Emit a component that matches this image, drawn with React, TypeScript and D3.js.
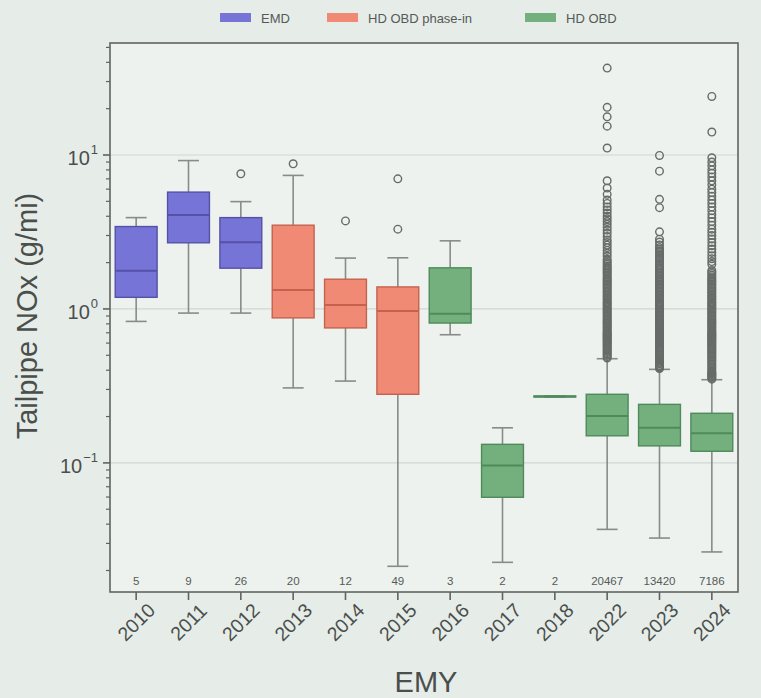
import { useEffect, useRef } from "react";
import * as d3 from "d3";

const years = ["2010", "2011", "2012", "2013", "2014", "2015", "2016", "2017", "2018", "2022", "2023", "2024"];
const groups = ["EMD", "EMD", "EMD", "HD OBD phase-in", "HD OBD phase-in", "HD OBD phase-in", "HD OBD", "HD OBD", "HD OBD", "HD OBD", "HD OBD", "HD OBD"];
const counts = ["5", "9", "26", "20", "12", "49", "3", "2", "2", "20467", "13420", "7186"];

const whiskLo = [0.83, 0.94, 0.94, 0.307, 0.34, 0.0213, 0.68, 0.0226, 0.268, 0.037, 0.0325, 0.0264];
const q1 = [1.19, 2.69, 1.84, 0.875, 0.753, 0.279, 0.81, 0.0598, 0.268, 0.15, 0.129, 0.119];
const med = [1.77, 4.08, 2.71, 1.33, 1.06, 0.97, 0.93, 0.096, 0.27, 0.202, 0.169, 0.156];
const q3 = [3.43, 5.74, 3.92, 3.5, 1.56, 1.39, 1.85, 0.132, 0.272, 0.279, 0.24, 0.21];
const whiskHi = [3.92, 9.2, 4.98, 7.37, 2.14, 2.15, 2.77, 0.169, 0.272, 0.475, 0.405, 0.347];

const out2012 = [7.55];
const out2013 = [8.77];
const out2014 = [3.73];
const out2015 = [7.0, 3.3];
const out2022 = [36.7, 20.4, 17.7, 15.4, 11.1, 6.8, 6.1, 5.55, 5.1, 4.85, 4.6, 4.4, 4.2, 4.0, 3.85, 3.7, 3.55, 3.4, 3.25, 3.1, 2.95, 2.8, 2.7, 2.6, 2.5, 2.4, 2.3, 2.2,
  2.1, 2.05, 2.0, 1.95, 1.9, 1.86, 1.82, 1.78, 1.74, 1.7, 1.66, 1.62, 1.58, 1.55, 1.52, 1.49, 1.46, 1.43, 1.4, 1.37, 1.34, 1.31, 1.28, 1.25, 1.22, 1.2, 1.17, 1.15,
  1.12, 1.1, 1.08, 1.06, 1.04, 1.02, 1.0, 0.98, 0.96, 0.94, 0.92, 0.9, 0.88, 0.86, 0.845, 0.83, 0.815, 0.8, 0.785, 0.77, 0.755, 0.74, 0.725, 0.71, 0.7, 0.69, 0.68,
  0.67, 0.66, 0.65, 0.64, 0.63, 0.62, 0.61, 0.6, 0.59, 0.58, 0.57, 0.56, 0.55, 0.54, 0.53, 0.52, 0.51, 0.5, 0.49, 0.48];
const out2023 = [9.93, 7.85, 5.15, 4.55, 3.17, 2.84, 2.72, 2.6, 2.5, 2.44, 2.38, 2.32, 2.26, 2.2, 2.15, 2.1, 2.05, 2.0, 1.95, 1.9, 1.86, 1.82, 1.78, 1.74, 1.7,
  1.66, 1.62, 1.58, 1.55, 1.52, 1.49, 1.46, 1.43, 1.4, 1.37, 1.34, 1.31, 1.28, 1.25, 1.22, 1.2, 1.17, 1.15, 1.12, 1.1, 1.08, 1.06, 1.04, 1.02, 1.0, 0.98, 0.96,
  0.94, 0.92, 0.9, 0.88, 0.86, 0.845, 0.83, 0.815, 0.8, 0.785, 0.77, 0.755, 0.74, 0.725, 0.71, 0.7, 0.69, 0.68, 0.67, 0.66, 0.65, 0.64, 0.63, 0.62, 0.61, 0.6,
  0.59, 0.58, 0.57, 0.56, 0.55, 0.54, 0.53, 0.52, 0.51, 0.5, 0.49, 0.48, 0.475, 0.47, 0.46, 0.45, 0.445, 0.44, 0.43, 0.425, 0.42, 0.415, 0.41];
const out2024 = [24, 14.1, 9.6, 9.0, 8.5, 8.0, 7.6, 7.2, 6.8, 6.4, 6.0, 5.7, 5.4, 5.1, 4.85, 4.6, 4.35, 4.1, 3.9, 3.7, 3.5, 3.3, 3.15, 3.0, 2.85, 2.7, 2.57,
  2.45, 2.33, 2.22, 2.12, 2.03, 1.95, 1.78, 1.74, 1.7, 1.66, 1.62, 1.58, 1.55, 1.52, 1.49, 1.46, 1.43, 1.4, 1.37, 1.34, 1.31, 1.28, 1.25, 1.22, 1.2, 1.17, 1.15,
  1.12, 1.1, 1.08, 1.06, 1.04, 1.02, 1.0, 0.98, 0.96, 0.94, 0.92, 0.9, 0.88, 0.86, 0.845, 0.83, 0.815, 0.8, 0.785, 0.77, 0.755, 0.74, 0.725, 0.71, 0.7, 0.69,
  0.68, 0.67, 0.66, 0.65, 0.64, 0.63, 0.62, 0.61, 0.6, 0.59, 0.58, 0.57, 0.56, 0.55, 0.54, 0.53, 0.52, 0.51, 0.5, 0.49, 0.48, 0.47, 0.46, 0.45, 0.44, 0.43,
  0.42, 0.41, 0.4, 0.39, 0.385, 0.38, 0.375, 0.37, 0.365, 0.36, 0.355, 0.35];
const outliers: number[][] = [[], [], out2012, out2013, out2014, out2015, [], [], [], out2022, out2023, out2024];

const legendNames = ["EMD", "HD OBD phase-in", "HD OBD"];
const fills = ["#7774d8", "#f08a74", "#74b07e"];
const darks = ["#5451a6", "#c4624e", "#4f8a5a"];

const yMajor = [0.1, 1, 10];
const yMajorExp = ["−1", "0", "1"];

const W = 761, H = 698;
const M = { left: 110, right: 738, top: 43, bottom: 592 };
const FONT = "'Liberation Sans', Arial, Helvetica, sans-serif";

export default function App() {
  const ref = useRef<SVGSVGElement>(null);
  useEffect(() => {
    if (!ref.current) return;
    const svg = d3.select(ref.current);
    svg.selectAll("*").remove();

    svg.append("rect").attr("width", W).attr("height", H).attr("fill", "#e6ece8");

    const x = d3.scaleBand().domain(years).range([M.left, M.right]).padding(0);
    const y = d3.scaleLog().domain([0.0145, 53.4]).range([M.bottom, M.top]);
    const color = d3.scaleOrdinal<string>().domain(legendNames).range(fills);
    const dark = d3.scaleOrdinal<string>().domain(legendNames).range(darks);
    const bw = x.bandwidth() * 0.8;

    svg.append("rect")
      .attr("x", M.left).attr("y", M.top)
      .attr("width", M.right - M.left).attr("height", M.bottom - M.top)
      .attr("fill", "#edf2ee");

    // gridlines
    svg.append("g").selectAll("line").data(yMajor).join("line")
      .attr("x1", M.left).attr("x2", M.right)
      .attr("y1", (d) => y(d)).attr("y2", (d) => y(d))
      .attr("stroke", "#cfd6d2").attr("stroke-width", 1.2);

    // boxes
    const g = svg.append("g");
    years.forEach((yr, i) => {
      const cx = x(yr)! + x.bandwidth() / 2;
      const grp = groups[i];
      const wc = "#868c89";
      g.append("line").attr("x1", cx).attr("x2", cx).attr("y1", y(whiskLo[i])).attr("y2", y(q1[i])).attr("stroke", wc).attr("stroke-width", 1.6);
      g.append("line").attr("x1", cx).attr("x2", cx).attr("y1", y(q3[i])).attr("y2", y(whiskHi[i])).attr("stroke", wc).attr("stroke-width", 1.6);
      [whiskLo[i], whiskHi[i]].forEach((v) => {
        g.append("line").attr("x1", cx - bw / 4).attr("x2", cx + bw / 4).attr("y1", y(v)).attr("y2", y(v)).attr("stroke", wc).attr("stroke-width", 1.6);
      });
      g.append("rect")
        .attr("x", cx - bw / 2).attr("width", bw)
        .attr("y", y(q3[i])).attr("height", Math.max(0.5, y(q1[i]) - y(q3[i])))
        .attr("fill", color(grp)).attr("stroke", dark(grp)).attr("stroke-width", 1.4);
      g.append("line").attr("x1", cx - bw / 2).attr("x2", cx + bw / 2).attr("y1", y(med[i])).attr("y2", y(med[i]))
        .attr("stroke", dark(grp)).attr("stroke-width", 2);
      g.append("g").selectAll("circle").data(outliers[i]).join("circle")
        .attr("cx", cx).attr("cy", (d) => y(d)).attr("r", 3.8)
        .attr("fill", "none").attr("stroke", "#676b69").attr("stroke-width", 1.4);
      g.append("text").attr("x", cx).attr("y", 585).attr("text-anchor", "middle")
        .attr("font-family", FONT).attr("font-size", 11.5).attr("fill", "#555a57").text(counts[i]);
    });

    // frame
    svg.append("rect")
      .attr("x", M.left).attr("y", M.top)
      .attr("width", M.right - M.left).attr("height", M.bottom - M.top)
      .attr("fill", "none").attr("stroke", "#5f6461").attr("stroke-width", 1.6);

    // x axis
    const xa = svg.append("g").attr("transform", `translate(0,${M.bottom})`)
      .call(d3.axisBottom(x).tickSize(8).tickSizeOuter(0).tickFormat(() => ""));
    xa.select(".domain").remove();
    xa.selectAll("line").attr("stroke", "#5f6461").attr("stroke-width", 1.6);
    svg.append("g").selectAll("text").data(years).join("text")
      .attr("transform", (d) => `translate(${x(d)! + x.bandwidth() / 2},622) rotate(-45)`)
      .attr("text-anchor", "middle").attr("dy", "0.35em")
      .attr("font-family", FONT).attr("font-size", 19.5).attr("fill", "#4a4f4c").text((d) => d);

    // y axis ticks
    const minor: number[] = [];
    [0.01, 0.1, 1, 10].forEach((dec) => {
      for (let k = 2; k <= 9; k++) {
        const v = dec * k;
        if (v > 0.0145 && v < 53.4) minor.push(v);
      }
    });
    svg.append("g").selectAll("line").data(minor).join("line")
      .attr("x1", M.left - 4).attr("x2", M.left).attr("y1", (d) => y(d)).attr("y2", (d) => y(d))
      .attr("stroke", "#5f6461").attr("stroke-width", 1.2);
    svg.append("g").selectAll("line").data(yMajor).join("line")
      .attr("x1", M.left - 7).attr("x2", M.left).attr("y1", (d) => y(d)).attr("y2", (d) => y(d))
      .attr("stroke", "#5f6461").attr("stroke-width", 1.6);
    const yl = svg.append("g").selectAll("text").data(yMajor).join("text")
      .attr("x", 98).attr("y", (d) => y(d) + 10).attr("text-anchor", "end")
      .attr("font-family", FONT).attr("font-size", 20).attr("fill", "#4a4f4c");
    yl.append("tspan").text("10");
    yl.append("tspan").attr("dy", -11).attr("dx", 1).attr("font-size", 13).text((_, i) => yMajorExp[i]);

    // axis titles
    svg.append("text").attr("transform", "translate(37,316) rotate(-90)").attr("text-anchor", "middle")
      .attr("font-family", FONT).attr("font-size", 29).attr("fill", "#4a4f4c").text("Tailpipe NOx (g/mi)");
    svg.append("text").attr("x", 426).attr("y", 692).attr("text-anchor", "middle")
      .attr("font-family", FONT).attr("font-size", 29).attr("fill", "#4a4f4c").text("EMY");

    // legend
    const legX = [220, 327, 525];
    const lg = svg.append("g");
    legendNames.forEach((n, i) => {
      lg.append("rect").attr("x", legX[i]).attr("y", 13).attr("width", 31).attr("height", 9)
        .attr("fill", fills[i]);
      lg.append("text").attr("x", legX[i] + 41).attr("y", 22.5)
        .attr("font-family", FONT).attr("font-size", 13).attr("fill", "#555a57").text(n);
    });
  }, []);
  return <svg ref={ref} width={W} height={H} style={{ position: "absolute", left: 0, top: 0 }} />;
}
